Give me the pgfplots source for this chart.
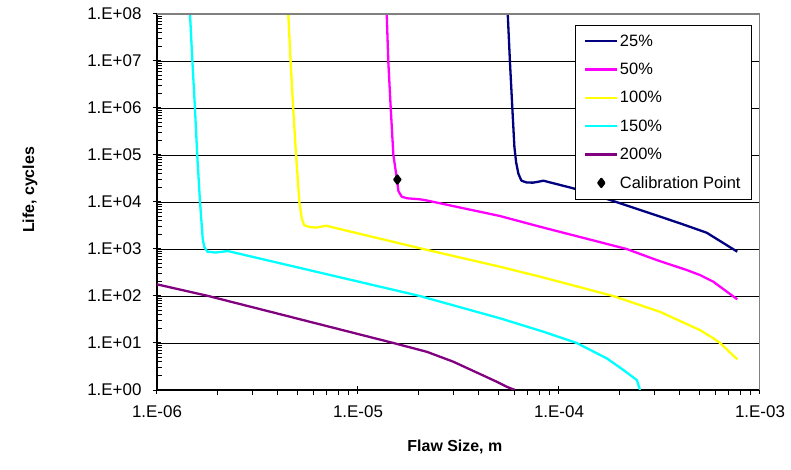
\documentclass[border=0pt]{standalone}
\usepackage{fontspec}
\setmainfont{Liberation Sans}
\usepackage{pgfplots}
\pgfplotsset{compat=1.18}
\definecolor{cnavy}{RGB}{0,0,128}
\definecolor{cmag}{RGB}{255,0,255}
\definecolor{cyel}{RGB}{255,255,0}
\definecolor{ccyan}{RGB}{0,255,255}
\definecolor{cpurp}{RGB}{128,0,128}
\definecolor{cborder}{RGB}{128,128,128}
\begin{document}
\begin{tikzpicture}
\useasboundingbox (-157bp,-80bp) rectangle (634bp,390bp);
\begin{axis}[
  at={(0,0)}, anchor=south west,
  scale only axis, width=603bp, height=376bp,
  xmode=log, ymode=log,
  xmin=1e-6, xmax=1e-3, ymin=1, ymax=1e8,
  axis x line*=bottom, axis y line*=left,
  axis line style={black, line width=1.2bp},
  xtick={1e-6,1e-5,1e-4,1e-3},
  xticklabels={1.E-06,1.E-05,1.E-04,1.E-03},
  ytick={1,10,100,1000,1e4,1e5,1e6,1e7,1e8},
  yticklabels={1.E+00,1.E+01,1.E+02,1.E+03,1.E+04,1.E+05,1.E+06,1.E+07,1.E+08},
  minor xtick={2e-6,3e-6,4e-6,5e-6,6e-6,7e-6,8e-6,9e-6,
               2e-5,3e-5,4e-5,5e-5,6e-5,7e-5,8e-5,9e-5,
               2e-4,3e-4,4e-4,5e-4,6e-4,7e-4,8e-4,9e-4},
  minor ytick={2,3,4,5,6,7,8,9,20,30,40,50,60,70,80,90,
               200,300,400,500,600,700,800,900,
               2000,3000,4000,5000,6000,7000,8000,9000,
               2e4,3e4,4e4,5e4,6e4,7e4,8e4,9e4,
               2e5,3e5,4e5,5e5,6e5,7e5,8e5,9e5,
               2e6,3e6,4e6,5e6,6e6,7e6,8e6,9e6,
               2e7,3e7,4e7,5e7,6e7,7e7,8e7,9e7},
  ymajorgrids,
  major grid style={black, line width=0.9bp},
  tick align=center,
  major tick length=8bp, minor tick length=5bp,
  tick style={black, line width=1bp},
  minor x tick style={yshift=-2.5bp},
  minor y tick style={xshift=2.5bp},
  ticklabel style={font=\fontsize{17}{20}\selectfont},
  /pgf/number format/assume math mode=true,
  xticklabel style={yshift=-8bp},
  yticklabel style={xshift=-8bp},
  xlabel={Flaw Size, m},
  ylabel={Life, cycles},
  every axis x label/.style={at={(axis description cs:0.494,-0.152)}, anchor=center, font=\fontsize{16}{19}\selectfont\bfseries},
  every axis y label/.style={at={(axis description cs:-0.2106,0.532)}, rotate=90, anchor=center, font=\fontsize{16}{19}\selectfont\bfseries},
  legend image code/.code={\draw[mark repeat=2,mark phase=2,#1] plot coordinates {(0bp,0bp) (16bp,0bp) (32bp,0bp)};},
  legend cell align=left,
  legend style={at={(rel axis cs:0.986,0.971)}, anchor=north east,
    draw=black, line width=0.9bp, fill=white,
    font=\fontsize{16.5}{19}\selectfont,
    row sep=12.3bp, inner xsep=9bp, inner ysep=8bp,
    nodes={inner sep=1.5bp}},
  every axis plot/.append style={line width=2.3bp, line join=round},
]
\addplot[cnavy, mark=none] coordinates {
(5.56e-5,1e8) (5.70e-5,1e7) (5.86e-5,1e6) (6.00e-5,1.5e5) (6.12e-5,7e4)
(6.28e-5,4e4) (6.5e-5,2.85e4) (6.9e-5,2.6e4) (7.43e-5,2.58e4) (7.9e-5,2.7e4)
(8.36e-5,2.84e4) (1.18e-4,1.95e4) (1.80e-4,1.10e4) (2.84e-4,5750)
(4.0e-4,3520) (5.43e-4,2220) (7.71e-4,877)};
\addlegendentry{25\%}
\addplot[cmag, mark=none] coordinates {
(1.39e-5,1e8) (1.415e-5,1e7) (1.455e-5,1e6) (1.50e-5,1e5) (1.56e-5,3.2e4)
(1.59e-5,1.7e4) (1.65e-5,1.3e4) (1.75e-5,1.2e4) (2.0e-5,1.15e4) (2.15e-5,1.1e4)
(5.08e-5,5040) (8.04e-5,2980) (2.17e-4,1000) (3.06e-4,583) (4.32e-4,357)
(5.02e-4,280) (5.86e-4,201) (7.71e-4,85)};
\addlegendentry{50\%}
\addplot[cyel, mark=none] coordinates {
(4.5e-6,1e8) (4.62e-6,1e7) (4.76e-6,1e6) (4.92e-6,1e5) (5.11e-6,1e4)
(5.25e-6,4.5e3) (5.4e-6,3.2e3) (5.8e-6,2.9e3) (6.24e-6,2.87e3) (6.93e-6,3.13e3)
(2.11e-5,1000) (5.08e-5,420) (8.04e-5,258) (1.86e-4,100) (3.18e-4,46)
(5.02e-4,18.9) (5.86e-4,12.6) (6.33e-4,10) (7.71e-4,4.5)};
\addlegendentry{100\%}
\addplot[ccyan, mark=none] coordinates {
(1.46e-6,1e8) (1.50e-6,1e7) (1.545e-6,1e6) (1.586e-6,1e5) (1.637e-6,1e4)
(1.69e-6,1.6e3) (1.72e-6,1.1e3) (1.78e-6,880) (1.95e-6,840) (2.1e-6,870)
(2.25e-6,905) (2.03e-5,100) (5.08e-5,33.6) (8.36e-5,17.4) (1.225e-4,10)
(1.73e-4,4.7) (2.09e-4,2.67) (2.44e-4,1.63) (2.53e-4,1)};
\addlegendentry{150\%}
\addplot[cpurp, mark=none] coordinates {
(1e-6,177) (1.8e-6,100) (4.59e-6,36.2) (1.5e-5,10) (2.2e-5,6.5) (2.98e-5,4.0)
(4.9e-5,1.5) (5.5e-5,1.17) (6.04e-5,1)};
\addlegendentry{200\%}
\addplot[only marks, mark=diamond*, mark size=4bp, black] coordinates {(1.57e-5,3e4)};
\addlegendentry{Calibration Point}
\draw[cborder, line width=1.2bp] (rel axis cs:0,1) -- (rel axis cs:1,1) -- (rel axis cs:1,0);
\end{axis}
\end{tikzpicture}
\end{document}
